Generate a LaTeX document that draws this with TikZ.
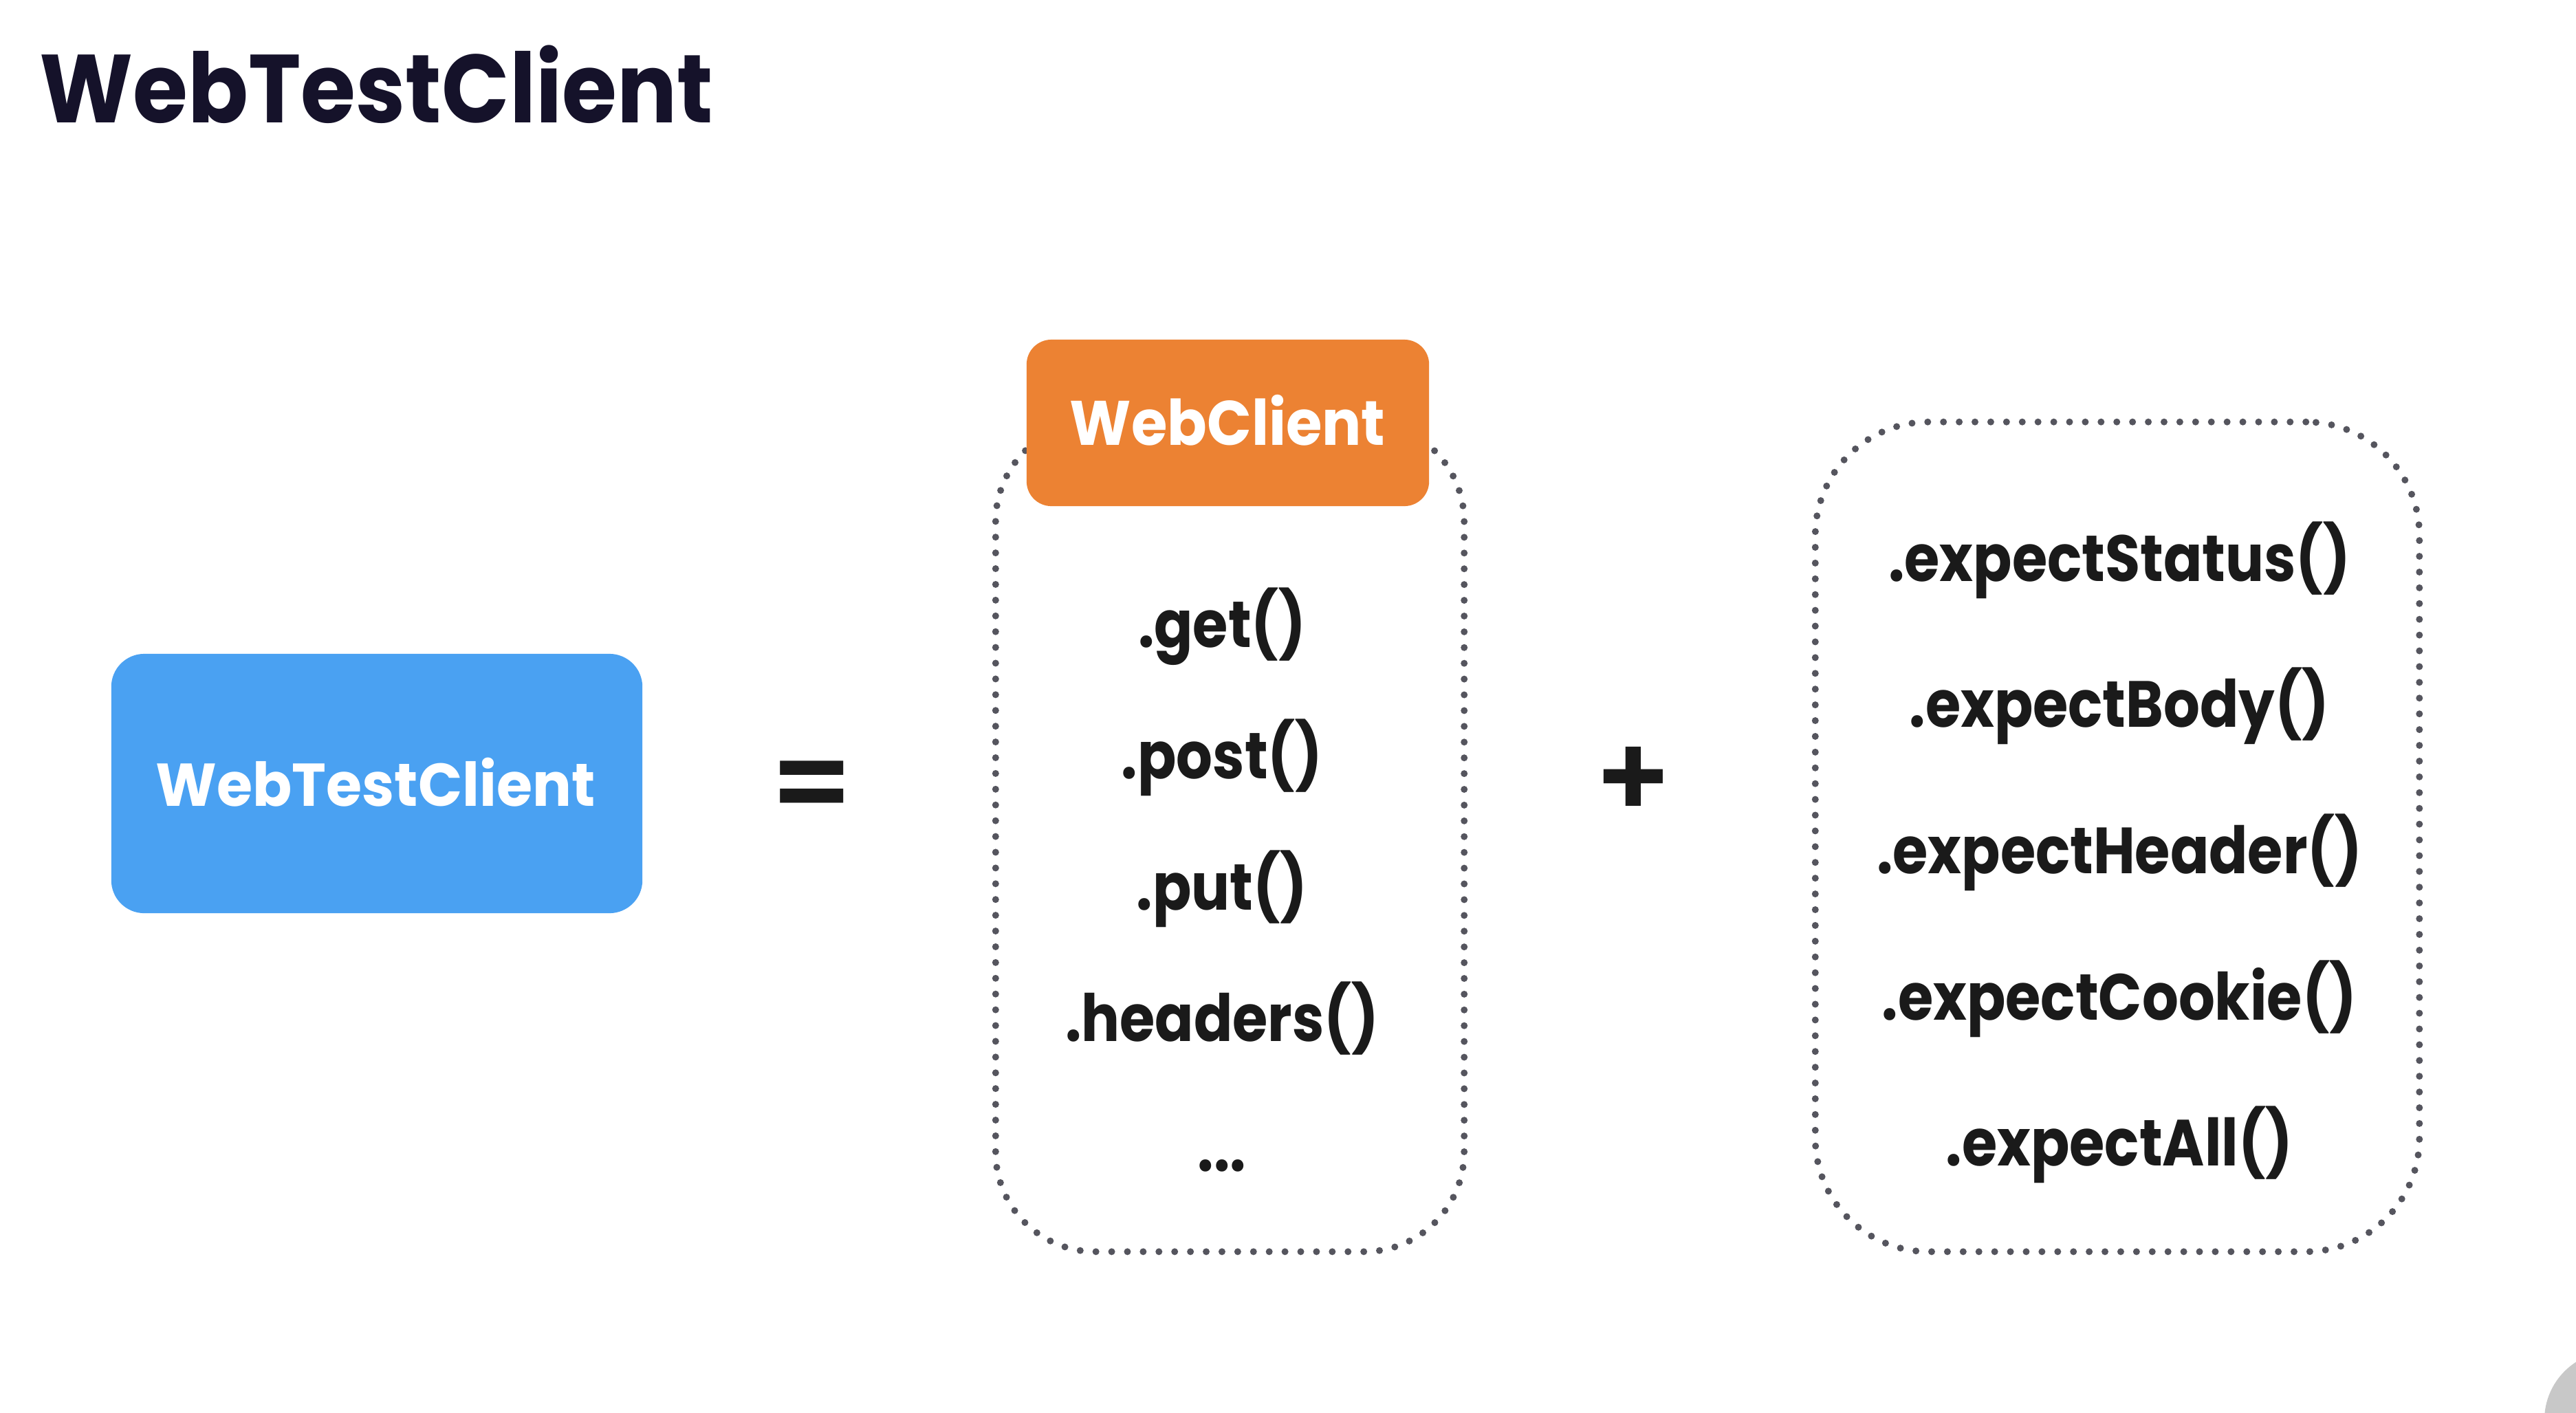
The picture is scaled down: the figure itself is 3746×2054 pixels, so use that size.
\documentclass[tikz,border=0pt]{standalone}
\usepackage{fontspec}
\setmainfont{Poppins}
\newfontfamily\ftitle{Poppins}[FakeStretch=0.92]
\newfontfamily\flist{Poppins}[FakeStretch=0.875]
\newfontfamily\fblue{Poppins}[FakeStretch=0.96]
\newfontfamily\forange{Poppins}[FakeStretch=0.93]
\newfontfamily\fsemi{Poppins SemiBold}
\definecolor{titlecol}{HTML}{15122A}
\definecolor{ink}{HTML}{1A1A1A}
\definecolor{bluefill}{HTML}{4AA1F2}
\definecolor{orangefill}{HTML}{EC8233}
\definecolor{dotcol}{HTML}{55555E}
\definecolor{circgray}{HTML}{C8C8C8}
\tikzset{
  titletext/.style={font=\ftitle\fontsize{40}{48}\selectfont\bfseries, text=titlecol, inner sep=0pt},
  bluebox/.style={fill=bluefill, draw=none, rounded corners=0.48cm, minimum width=7.72cm, minimum height=3.77cm, inner sep=0pt},
  orangebox/.style={fill=orangefill, draw=none, rounded corners=0.36cm, minimum width=5.85cm, minimum height=2.42cm, inner sep=0pt},
  boxlabel/.style={text=white, inner sep=0pt, anchor=base},
  listitem/.style={font=\flist\fontsize{27}{32}\selectfont\bfseries, text=ink, inner sep=0pt, anchor=base},
  opsign/.style={font=\fsemi\fontsize{48}{56}\selectfont, text=ink, inner sep=0pt},
  dotbox/.style={draw=dotcol, line width=0.1cm, line cap=round, dash pattern=on 0pt off 0.229cm, inner sep=0pt, fill=none},
}
\begin{document}
\begin{tikzpicture}[x=0.01cm, y=-0.01cm]
\path[use as bounding box] (0,0) rectangle (3746,2054);
\clip (0,0) rectangle (3746,2054);
\fill[white] (0,0) rectangle (3746,2054);

% title
\node[titletext, anchor=base west] (title) at (57,178) {WebTestClient};

% left box
\node[bluebox] (wtc) at (548,1139.5) {};
\node[boxlabel, font=\fblue\fontsize{25}{30}\selectfont\bfseries] (wtclabel) at (546,1172) {WebTestClient};

% equals
\node[opsign] (eq) at (1181,1152) {=};

% group 1 (WebClient)
\node[dotbox, minimum width=6.81cm, minimum height=12.06cm, rounded corners=1.45cm] (grp1) at (1788.5,1217) {};
\node[orangebox] (wc) at (1785.5,615) {};
\node[boxlabel, font=\forange\fontsize{26}{30}\selectfont\bfseries] (wclabel) at (1785,647) {WebClient};
\node[listitem] (get) at (1777,941) {.get()};
\node[listitem] (post) at (1777,1132) {.post()};
\node[listitem] (put) at (1777,1323) {.put()};
\node[listitem] (headers) at (1777,1514) {.headers()};
\node[listitem] (more) at (1777,1703) {...};

% plus
\node[opsign] (plus) at (2375,1138) {+};

% group 2 (expectations)
\node[dotbox, minimum width=8.78cm, minimum height=12.06cm, rounded corners=1.65cm] (grp2) at (3079,1217) {};
\node[listitem] (status) at (3082,845) {.expectStatus()};
\node[listitem] (body) at (3082,1057) {.expectBody()};
\node[listitem] (header) at (3082,1270) {.expectHeader()};
\node[listitem] (cookie) at (3082,1483) {.expectCookie()};
\node[listitem] (all) at (3082,1695) {.expectAll()};

% partial grey circle at the corner
\fill[circgray] (3800,2065) circle[radius=100];
\end{tikzpicture}
\end{document}
